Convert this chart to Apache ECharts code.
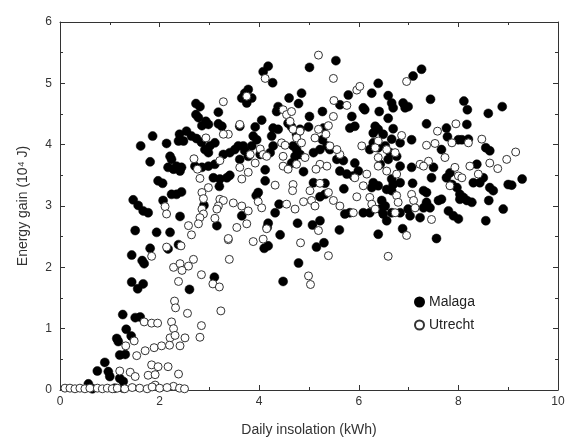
<!DOCTYPE html>
<html>
<head>
<meta charset="utf-8">
<script src="https://cdn.jsdelivr.net/npm/echarts@6/dist/echarts.min.js"></script>
<style>html,body{margin:0;padding:0;background:#fff}#c{width:570px;height:442px}</style>
</head>
<body>
<div id="c"></div>
<script>
const xTicks = [0, 2, 4, 6, 8, 10];
const yTicks = [0, 1, 2, 3, 4, 5, 6];
const seriesNames = ['Malaga', 'Utrecht'];

const malaga = [
[1.44,2.20],[1.65,2.11],[1.69,2.06],[1.44,1.76],[1.56,1.65],[1.67,1.73],[1.26,1.23],[1.51,1.18],[1.61,1.19],[1.33,0.99],[1.43,0.88],[1.14,0.84],[1.17,0.79],[1.20,0.57],[1.31,0.58],[0.90,0.45],[0.75,0.31],[0.97,0.30],[1.00,0.22],[1.20,0.19],[1.27,0.14],[0.57,0.10],[1.27,0.03],[0.65,0.02],[1.10,0.03],
[1.81,2.31],[2.38,2.37],[2.17,2.30],[3.10,1.84],[2.60,1.64],
[2.73,4.67],[2.81,4.62],[3.18,4.53],[2.73,4.49],[2.78,4.44],[2.93,4.38],[2.98,4.33],[2.85,4.31],[3.18,4.34],[3.25,4.30],[1.86,4.14],[2.14,4.02],[1.62,3.98],[2.40,4.17],[2.54,4.22],[2.64,4.14],[2.48,4.06],[2.38,4.06],[2.74,4.10],[2.84,4.04],[3.01,3.98],[2.91,3.92],[2.98,3.87],[3.11,4.03],[3.28,3.84],[3.41,3.87],[3.51,3.92],[3.58,3.98],[3.61,3.76],[2.21,3.81],[2.24,3.76],[1.81,3.72],[2.17,3.63],[2.28,3.60],[2.34,3.65],[2.44,3.63],[2.41,3.57],[2.71,3.65],[2.85,3.63],[2.98,3.65],[3.11,3.68],[3.08,3.46],[3.21,3.44],[3.35,3.46],[3.41,3.50],[1.97,3.41],[2.06,3.37],[3.20,3.32],[2.24,3.19],[2.34,3.19],[2.44,3.23],[1.47,3.10],[1.57,3.01],[1.67,2.92],[1.77,2.89],[2.07,3.09],[2.89,3.01],[2.41,2.83],[3.65,2.84],[3.15,2.68],[1.51,2.60],[1.94,2.57],[2.21,2.57],
[5.54,5.37],[5.01,5.26],[4.18,5.28],[4.08,5.19],[4.27,5.01],[3.78,4.90],[3.71,4.84],[3.65,4.76],[3.75,4.68],[3.85,4.76],[4.85,4.84],[4.60,4.76],[4.79,4.67],[5.79,4.81],[5.62,4.65],[5.86,4.46],[5.82,4.27],[5.92,4.30],[4.38,4.62],[4.35,4.54],[5.27,4.54],[5.01,4.46],[4.99,4.29],[4.05,4.40],[3.92,4.29],[3.88,4.14],[3.95,4.08],[3.85,3.98],[4.28,4.27],[4.38,4.25],[4.25,4.14],[4.58,4.35],[4.65,4.29],[4.75,4.17],[4.82,4.25],[5.29,4.27],[5.27,4.08],[5.42,3.92],[3.68,3.98],[3.71,3.90],[3.78,3.81],[4.68,3.98],[4.75,3.92],[4.72,3.81],[4.82,3.84],[4.65,3.70],[4.28,3.98],[4.22,3.87],[4.02,3.84],[5.09,3.87],[5.22,3.92],[5.36,3.98],[5.56,3.76],[5.69,3.74],[5.92,3.70],[3.61,4.30],
[4.12,3.59],[4.12,3.41],[3.98,3.22],[3.94,3.17],[4.89,3.56],[5.09,3.38],[5.32,3.37],[5.62,3.57],[5.76,3.52],[5.99,3.57],[5.89,3.49],[5.70,3.28],[5.22,3.15],[5.32,3.19],[4.40,3.03],[4.32,2.89],[4.18,2.72],[4.16,2.65],[4.77,2.72],[5.07,2.69],[5.22,2.76],[5.72,2.87],[5.82,2.89],[5.61,2.61],[4.42,2.53],[4.10,2.31],[4.18,2.35],[5.15,2.33],[5.30,2.40],[4.79,2.07],[4.48,1.77],
[7.26,5.23],[7.09,5.12],[6.39,5.00],[6.26,4.84],[7.44,4.74],[8.11,4.71],[8.18,4.57],[6.59,4.80],[6.66,4.68],[6.69,4.60],[6.89,4.68],[6.99,4.62],[6.93,4.60],[6.09,4.60],[6.12,4.57],[6.41,4.54],[6.59,4.43],[7.36,4.34],[8.17,4.33],[6.33,4.30],[6.29,4.19],[6.39,4.25],[6.49,4.17],[6.69,4.26],[7.76,4.27],[7.78,4.13],[8.00,4.08],[8.07,4.08],[8.20,4.09],[6.66,4.09],[6.83,4.03],[7.06,4.08],[7.66,3.92],[6.53,3.98],[6.63,3.87],[6.76,3.81],[6.59,3.76],[6.29,4.03],[6.39,3.95],[6.22,3.92],[8.37,3.68],[6.43,3.68],[6.83,3.65],[7.06,3.63],[7.50,3.63],
[7.46,3.46],[7.83,3.54],[7.76,3.46],[7.87,3.35],[7.97,3.30],[8.30,3.38],[8.43,3.38],[8.50,3.46],[6.29,3.38],[6.26,3.30],[6.39,3.33],[6.66,3.44],[6.69,3.35],[6.83,3.38],[6.56,3.27],[6.66,3.25],[7.08,3.37],[7.30,3.25],[7.36,3.22],[8.03,3.19],[8.10,3.14],[8.17,3.09],[8.27,3.06],[8.03,3.11],[7.66,3.11],[7.60,3.09],[7.36,3.06],[7.43,2.97],[7.30,2.97],[6.46,3.09],[6.53,3.00],[6.09,2.89],[6.22,2.89],[6.43,2.95],[6.49,2.87],[6.66,2.89],[6.99,2.95],[7.03,2.84],[7.23,2.81],[6.83,2.89],[6.56,2.76],[7.80,2.92],[7.90,2.84],[8.00,2.79],[6.39,2.54],[6.88,2.63],[7.56,2.47],
[8.88,4.62],[8.60,4.51],[8.55,3.95],[8.63,3.90],[8.63,3.30],[8.70,3.25],[9.00,3.35],[9.07,3.34],[9.28,3.44],[8.61,3.09],[8.90,2.95],[8.55,2.76]
];

const utrecht = [
[1.84,2.18],[2.28,2.00],[2.41,2.06],[2.38,1.77],[2.30,1.45],[2.32,1.34],[1.69,1.11],[1.84,1.09],[1.96,1.09],[2.24,1.11],[2.28,1.00],[2.21,0.85],[2.31,0.89],[2.41,0.72],[1.32,0.72],[1.49,0.80],[1.54,0.56],[1.71,0.64],[1.89,0.69],[2.04,0.72],[2.20,0.73],[1.20,0.31],[1.41,0.29],[1.51,0.22],[1.84,0.41],[1.97,0.38],[2.17,0.38],[1.77,0.24],[1.91,0.25],[2.38,0.26],[2.28,0.06],[1.91,0.08],
[2.14,2.33],[2.43,2.35],[3.38,2.45],[3.40,2.13],[2.58,2.02],[2.68,2.13],[2.45,1.95],[2.84,1.88],[3.07,1.73],[3.20,1.68],[2.56,1.25],[3.23,1.29],[2.84,1.05],[2.81,0.86],[2.51,0.85],
[0.10,0.03],[0.20,0.03],[0.30,0.02],[0.40,0.03],[0.50,0.02],[0.60,0.03],[0.75,0.03],[0.85,0.02],[0.95,0.03],[1.05,0.02],[1.15,0.03],[1.30,0.02],[1.45,0.04],[1.60,0.03],[1.75,0.02],[1.85,0.05],[2.00,0.03],[2.15,0.04],[2.40,0.03],[2.50,0.02],
[3.28,4.70],[3.61,4.33],[3.38,4.17],[3.28,4.17],[2.93,4.11],[2.69,3.77],[3.21,3.74],[2.76,3.60],[2.81,3.45],[3.61,3.63],[3.65,3.44],[2.98,3.30],[2.85,3.22],[2.88,3.12],[3.21,3.11],[3.28,3.09],[3.18,3.00],[3.15,2.95],[3.48,3.05],[2.11,2.99],[2.14,2.87],[2.85,2.95],[2.88,2.87],[2.81,2.81],[2.78,2.71],[2.58,2.68],[2.64,2.53],[3.11,2.80],[3.55,2.65],[3.38,2.47],
[5.19,5.46],[5.49,5.08],[4.12,5.08],[3.75,4.79],[5.96,4.89],[6.02,4.95],[5.50,4.72],[5.76,4.64],[4.48,4.57],[4.55,4.49],[4.65,4.54],[4.62,4.38],[5.49,4.46],[5.39,4.31],[5.19,4.25],[5.34,4.17],[4.68,4.25],[4.82,4.22],[4.75,4.11],[4.85,4.03],[4.45,4.03],[4.52,3.99],[4.48,3.81],[5.12,4.11],[5.42,3.98],[6.06,3.98],[4.02,3.93],[4.08,3.84],[4.15,3.81],[3.82,3.84],[3.92,3.70],[4.48,3.65],[4.75,3.68],[4.92,3.79],[5.62,3.84],[5.56,3.92],[5.22,3.68],[5.36,3.65],
[3.78,3.55],[4.58,3.60],[5.14,3.60],[4.32,3.34],[4.68,3.35],[4.67,3.25],[5.02,3.25],[5.22,3.37],[5.39,3.22],[5.92,3.46],[5.96,3.15],[5.89,2.89],[5.49,3.09],[5.62,3.00],[4.89,3.07],[5.05,3.09],[5.12,3.00],[4.55,3.03],[4.72,2.95],[3.98,3.07],[4.05,2.97],[3.65,3.00],[3.78,2.92],[3.75,2.71],[4.15,2.63],[5.19,2.60],[3.88,2.42],[4.08,2.46],[4.83,2.40],[5.39,2.19],[4.99,1.86],[5.03,1.72],
[6.96,5.03],[7.95,4.34],[7.58,4.22],[6.86,4.15],[7.36,3.99],[7.53,4.02],[7.87,4.03],[8.20,4.03],[8.47,4.09],[6.39,4.06],[6.33,3.95],[6.56,3.92],[6.73,3.87],[7.73,3.79],[7.40,3.73],[7.23,3.68],[7.30,3.65],[6.39,3.79],[7.93,3.63],[8.23,3.65],
[6.39,3.65],[6.16,3.52],[6.09,3.33],[6.56,3.57],[6.76,3.52],[8.00,3.49],[8.07,3.46],[8.40,3.52],[7.06,3.19],[7.10,3.09],[6.76,3.17],[6.79,3.06],[6.22,3.14],[6.26,3.03],[6.33,2.95],[7.13,2.97],[6.73,2.89],[7.46,2.78],[6.96,2.52],[6.59,2.18],[7.83,3.33],
[9.15,3.88],[8.97,3.76],[8.63,3.70],[8.79,3.61]
];

const chart = echarts.init(document.getElementById('c'), null, {renderer: 'canvas'});
const font = 'Liberation Sans, Arial, sans-serif';
const axisCommon = {
  type: 'value',
  axisLine: {show: true, onZero: false, lineStyle: {color: '#333', width: 1}},
  axisTick: {show: true, inside: true, length: 5, lineStyle: {color: '#333'}},
  minorTick: {show: true, splitNumber: 2, length: 3, lineStyle: {color: '#333'}},
  splitLine: {show: false},
  minorSplitLine: {show: false}
};
chart.setOption({
  animation: false,
  backgroundColor: '#fff',
  grid: {left: 60, right: 12, top: 22, bottom: 50, containLabel: false},
  xAxis: [
    Object.assign({}, axisCommon, {
      position: 'bottom', min: xTicks[0], max: xTicks[xTicks.length - 1], interval: 2,
      axisLabel: {color: '#333', fontSize: 12, fontFamily: font, margin: 6},
      name: 'Daily insolation (kWh)', nameLocation: 'middle', nameGap: 33,
      nameTextStyle: {color: '#333', fontSize: 14, fontFamily: font}
    }),
    Object.assign({}, axisCommon, {
      position: 'top', min: xTicks[0], max: xTicks[xTicks.length - 1], interval: 2,
      axisLabel: {show: false}
    })
  ],
  yAxis: [
    Object.assign({}, axisCommon, {
      position: 'left', min: yTicks[0], max: yTicks[yTicks.length - 1], interval: 1,
      axisLabel: {color: '#333', fontSize: 12, fontFamily: font, margin: 8},
      name: 'Energy gain (10\u2074 J)', nameLocation: 'middle', nameGap: 30, nameRotate: 90,
      nameTextStyle: {color: '#333', fontSize: 14, fontFamily: font}
    }),
    Object.assign({}, axisCommon, {
      position: 'right', min: yTicks[0], max: yTicks[yTicks.length - 1], interval: 1,
      axisLabel: {show: false}
    })
  ],
  legend: {
    orient: 'vertical', left: 409, top: 290, itemWidth: 9, itemHeight: 9, itemGap: 9,
    textStyle: {color: '#222', fontSize: 14, fontFamily: font},
    data: [
      {name: seriesNames[0], icon: 'circle'},
      {name: seriesNames[1], icon: 'circle'}
    ]
  },
  series: [
    {
      name: seriesNames[0], type: 'scatter', data: malaga, symbol: 'circle', symbolSize: 9,
      itemStyle: {color: '#000', borderColor: '#000', borderWidth: 0.5, opacity: 1}
    },
    {
      name: seriesNames[1], type: 'scatter', data: utrecht, symbol: 'circle', symbolSize: 8,
      itemStyle: {color: '#fff', borderColor: '#333', borderWidth: 1, opacity: 1}
    }
  ]
});
</script>
</body>
</html>
